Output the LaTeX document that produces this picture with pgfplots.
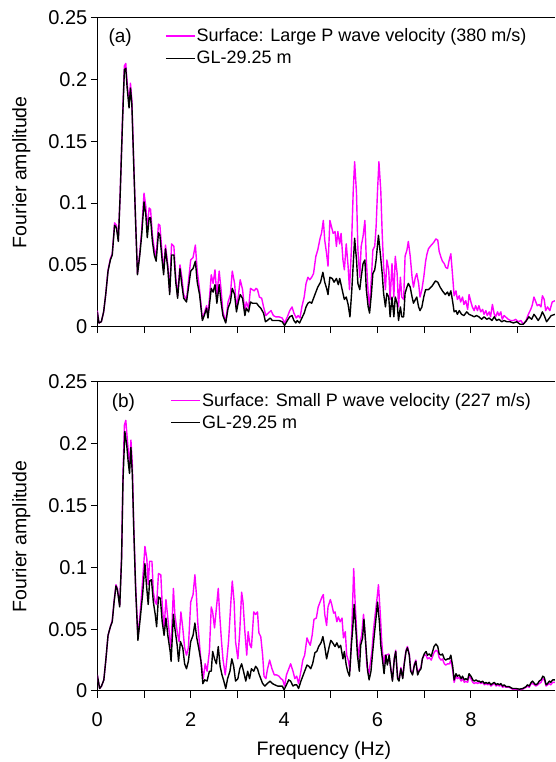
\documentclass[border=0pt]{standalone}
\usepackage{pgfplots}
\pgfplotsset{compat=1.18}
\usepackage{fontspec}
\setmainfont{Liberation Sans}
\definecolor{mag}{RGB}{255,0,255}
\pgfplotsset{
 myax/.style={
  scale only axis, width=457.7pt, height=309pt,
  xmin=0, xmax=9.8, ymin=0, ymax=0.25,
  axis x line*=box, axis y line*=left,
  xtick pos=bottom, ytick pos=left,
  axis line style={line width=1pt},
  tick align=outside, major tick length=6.5pt,
  every tick/.style={black, line width=1pt},
  xtick={0,1,2,3,4,5,6,7,8,9},
  ytick={0,0.05,0.1,0.15,0.2,0.25},
  yticklabels={0,0.05,0.1,0.15,0.2,0.25},
  ticklabel style={font=\fontsize{20}{20}\selectfont},
  ylabel={Fourier amplitude},
  ylabel style={at={(axis description cs:-0.166,0.5)}, anchor=center, font=\fontsize{19.5}{19.5}\selectfont},
  legend cell align=left,
  legend image code/.code={\draw[#1, line width=1.4pt] (0pt,0pt) -- (29pt,0pt);},
  legend style={draw=none, fill=none, anchor=north west, inner sep=0pt, row sep=6pt,
    font=\fontsize{18}{18}\selectfont, nodes={inner sep=1pt}},
  clip=true,
 },
 mline/.style={mag, line width=1.4pt, line join=round},
 bline/.style={black, line width=1.4pt, line join=round},
}
\begin{document}
\begin{tikzpicture}
\path[use as bounding box] (0,0) rectangle (555pt,762pt);
% ---------------- top panel ----------------
\begin{axis}[myax, at={(97.3pt,435.3pt)}, anchor=south west,
  xticklabel=\empty,
  legend style={at={(axis description cs:0.148,0.968)}}]
\addplot[mline] coordinates {(0,0.013)(0.036,0.003)(0.086,0.004)(0.136,0.012)(0.18,0.026)(0.23,0.046)(0.28,0.055)(0.32,0.059)(0.37,0.084)(0.41,0.082)(0.45,0.070)(0.49,0.108)(0.54,0.168)(0.58,0.211)(0.61,0.213)(0.64,0.197)(0.68,0.180)(0.71,0.197)(0.74,0.183)(0.78,0.133)(0.82,0.086)(0.86,0.043)(0.91,0.060)(0.95,0.078)(1.0,0.108)(1.04,0.097)(1.07,0.078)(1.11,0.096)(1.14,0.095)(1.18,0.074)(1.22,0.063)(1.26,0.057)(1.31,0.083)(1.34,0.082)(1.39,0.058)(1.42,0.046)(1.46,0.066)(1.51,0.050)(1.55,0.028)(1.59,0.067)(1.64,0.065)(1.68,0.040)(1.72,0.025)(1.77,0.050)(1.81,0.040)(1.85,0.026)(1.91,0.022)(1.95,0.036)(2.0,0.054)(2.05,0.056)(2.1,0.066)(2.14,0.045)(2.19,0.030)(2.25,0.006)(2.29,0.011)(2.34,0.017)(2.37,0.008)(2.44,0.042)(2.48,0.035)(2.52,0.046)(2.56,0.025)(2.61,0.045)(2.65,0.030)(2.69,0.012)(2.75,0.004)(2.80,0.020)(2.85,0.026)(2.89,0.045)(2.94,0.035)(2.98,0.015)(3.02,0.025)(3.06,0.038)(3.11,0.030)(3.16,0.012)(3.19,0.020)(3.24,0.015)(3.28,0.031)(3.32,0.030)(3.36,0.029)(3.40,0.031)(3.43,0.030)(3.47,0.024)(3.52,0.023)(3.56,0.016)(3.61,0.009)(3.66,0.011)(3.72,0.013)(3.77,0.009)(3.82,0.008)(3.89,0.008)(3.96,0.007)(4.01,0.003)(4.07,0.008)(4.12,0.013)(4.17,0.016)(4.21,0.011)(4.26,0.007)(4.30,0.009)(4.34,0.007)(4.38,0.016)(4.43,0.024)(4.47,0.035)(4.51,0.040)(4.55,0.038)(4.59,0.040)(4.63,0.043)(4.68,0.057)(4.72,0.062)(4.77,0.0715)(4.80,0.0755)(4.84,0.086)(4.87,0.070)(4.91,0.059)(4.94,0.049)(4.98,0.086)(5.02,0.080)(5.05,0.0755)(5.09,0.077)(5.12,0.065)(5.15,0.077)(5.19,0.067)(5.22,0.0755)(5.26,0.054)(5.29,0.046)(5.33,0.067)(5.37,0.049)(5.40,0.030)(5.44,0.062)(5.48,0.110)(5.51,0.1335)(5.55,0.108)(5.58,0.062)(5.62,0.040)(5.65,0.065)(5.69,0.073)(5.73,0.086)(5.76,0.054)(5.80,0.027)(5.83,0.016)(5.87,0.040)(5.90,0.062)(5.94,0.065)(5.97,0.081)(6.00,0.110)(6.03,0.1335)(6.07,0.110)(6.10,0.0755)(6.13,0.049)(6.17,0.030)(6.20,0.054)(6.24,0.046)(6.27,0.022)(6.31,0.051)(6.35,0.024)(6.38,0.057)(6.42,0.043)(6.45,0.016)(6.49,0.040)(6.52,0.024)(6.56,0.022)(6.59,0.057)(6.63,0.062)(6.66,0.069)(6.70,0.057)(6.74,0.040)(6.77,0.032)(6.81,0.040)(6.84,0.043)(6.88,0.035)(6.91,0.024)(6.95,0.030)(6.99,0.040)(7.03,0.053)(7.06,0.059)(7.09,0.063)(7.15,0.066)(7.2,0.068)(7.25,0.071)(7.29,0.070)(7.32,0.061)(7.36,0.056)(7.39,0.053)(7.43,0.051)(7.46,0.048)(7.5,0.047)(7.53,0.053)(7.57,0.059)(7.61,0.040)(7.64,0.025)(7.68,0.029)(7.71,0.022)(7.75,0.025)(7.78,0.020)(7.82,0.024)(7.85,0.018)(7.89,0.021)(7.93,0.014)(7.96,0.026)(8.0,0.020)(8.03,0.016)(8.07,0.013)(8.1,0.017)(8.14,0.013)(8.17,0.017)(8.21,0.012)(8.25,0.014)(8.28,0.010)(8.32,0.013)(8.35,0.009)(8.39,0.012)(8.42,0.008)(8.46,0.018)(8.5,0.010)(8.53,0.008)(8.57,0.012)(8.6,0.009)(8.64,0.012)(8.67,0.006)(8.71,0.009)(8.74,0.008)(8.8,0.006)(8.85,0.005)(8.91,0.005)(8.96,0.006)(9.01,0.004)(9.07,0.005)(9.12,0.002)(9.17,0.004)(9.23,0.010)(9.28,0.014)(9.31,0.017)(9.35,0.024)(9.38,0.021)(9.42,0.017)(9.46,0.018)(9.5,0.016)(9.53,0.025)(9.57,0.022)(9.6,0.013)(9.64,0.016)(9.69,0.013)(9.74,0.020)(9.8,0.021)};
\addlegendentry{Surface: Large P wave velocity (380 m/s)}
\addplot[bline] coordinates {(0,0.012)(0.036,0.003)(0.086,0.004)(0.136,0.012)(0.18,0.026)(0.23,0.045)(0.28,0.054)(0.32,0.058)(0.37,0.082)(0.41,0.080)(0.45,0.069)(0.49,0.107)(0.54,0.166)(0.58,0.208)(0.61,0.209)(0.64,0.193)(0.68,0.177)(0.71,0.193)(0.74,0.180)(0.78,0.131)(0.82,0.085)(0.86,0.042)(0.91,0.058)(0.95,0.074)(1.0,0.101)(1.04,0.090)(1.07,0.072)(1.11,0.088)(1.14,0.088)(1.18,0.069)(1.22,0.058)(1.26,0.053)(1.31,0.076)(1.34,0.074)(1.39,0.053)(1.42,0.042)(1.46,0.063)(1.51,0.047)(1.55,0.026)(1.59,0.058)(1.64,0.058)(1.68,0.036)(1.72,0.023)(1.77,0.047)(1.81,0.034)(1.85,0.023)(1.91,0.020)(1.95,0.031)(2.0,0.045)(2.05,0.047)(2.1,0.053)(2.14,0.036)(2.19,0.026)(2.25,0.005)(2.29,0.009)(2.34,0.015)(2.37,0.007)(2.44,0.031)(2.48,0.028)(2.52,0.034)(2.56,0.019)(2.61,0.034)(2.65,0.020)(2.69,0.009)(2.75,0.003)(2.8,0.015)(2.85,0.020)(2.89,0.031)(2.94,0.026)(2.98,0.012)(3.02,0.020)(3.06,0.026)(3.11,0.023)(3.16,0.009)(3.19,0.015)(3.24,0.012)(3.28,0.020)(3.32,0.019)(3.36,0.019)(3.41,0.019)(3.45,0.017)(3.50,0.015)(3.56,0.011)(3.60,0.004)(3.64,0.005)(3.70,0.007)(3.75,0.005)(3.82,0.005)(3.89,0.005)(3.96,0.004)(4.01,0.001)(4.07,0.005)(4.12,0.008)(4.17,0.009)(4.21,0.005)(4.25,0.003)(4.28,0.005)(4.33,0.003)(4.38,0.007)(4.43,0.011)(4.47,0.016)(4.51,0.019)(4.55,0.020)(4.59,0.019)(4.63,0.023)(4.68,0.028)(4.72,0.032)(4.78,0.036)(4.83,0.044)(4.87,0.036)(4.91,0.031)(4.94,0.026)(4.98,0.040)(5.03,0.039)(5.07,0.036)(5.12,0.039)(5.16,0.034)(5.19,0.039)(5.22,0.034)(5.26,0.027)(5.29,0.022)(5.33,0.024)(5.37,0.018)(5.41,0.008)(5.45,0.030)(5.51,0.0715)(5.55,0.054)(5.58,0.035)(5.62,0.030)(5.65,0.040)(5.69,0.051)(5.73,0.054)(5.76,0.030)(5.80,0.016)(5.83,0.011)(5.87,0.027)(5.90,0.043)(5.94,0.046)(5.97,0.054)(6.02,0.074)(6.06,0.059)(6.10,0.043)(6.13,0.027)(6.17,0.016)(6.20,0.027)(6.24,0.024)(6.27,0.008)(6.31,0.024)(6.35,0.008)(6.38,0.024)(6.42,0.019)(6.45,0.005)(6.49,0.016)(6.52,0.008)(6.56,0.008)(6.59,0.027)(6.63,0.032)(6.66,0.035)(6.70,0.032)(6.74,0.024)(6.77,0.019)(6.81,0.022)(6.84,0.024)(6.88,0.016)(6.91,0.013)(6.95,0.016)(6.99,0.024)(7.03,0.030)(7.09,0.030)(7.17,0.033)(7.24,0.037)(7.29,0.036)(7.34,0.032)(7.39,0.029)(7.45,0.026)(7.5,0.028)(7.53,0.025)(7.57,0.029)(7.61,0.020)(7.64,0.012)(7.68,0.013)(7.71,0.010)(7.75,0.013)(7.8,0.010)(7.85,0.009)(7.91,0.012)(7.96,0.010)(8.02,0.009)(8.07,0.008)(8.12,0.009)(8.17,0.008)(8.23,0.006)(8.28,0.008)(8.34,0.006)(8.39,0.007)(8.45,0.005)(8.5,0.008)(8.55,0.005)(8.6,0.006)(8.66,0.004)(8.71,0.005)(8.77,0.004)(8.84,0.004)(8.91,0.003)(8.98,0.004)(9.05,0.002)(9.12,0.002)(9.19,0.005)(9.24,0.008)(9.3,0.006)(9.35,0.010)(9.39,0.008)(9.44,0.005)(9.49,0.008)(9.53,0.012)(9.57,0.009)(9.62,0.004)(9.66,0.006)(9.72,0.009)(9.8,0.010)};
\addlegendentry{GL-29.25 m}
\node[font=\fontsize{19}{19}\selectfont] at (axis description cs:0.05,0.934) {(a)};
\end{axis}
% ---------------- bottom panel ----------------
\begin{axis}[myax, at={(97.3pt,71pt)}, anchor=south west,
  xticklabels={0,,2,,4,,6,,8,},
  xticklabel shift=12pt,
  xlabel={Frequency (Hz)},
  xlabel style={at={(axis description cs:0.495,-0.191)}, anchor=center, font=\fontsize{19.5}{19.5}\selectfont},
  legend style={at={(axis description cs:0.16,0.968)}}]
\addplot[mline] coordinates {(0,0.013)(0.05,0.002)(0.09,0.004)(0.14,0.009)(0.18,0.024)(0.23,0.045)(0.28,0.052)(0.32,0.057)(0.36,0.073)(0.40,0.086)(0.43,0.083)(0.48,0.069)(0.52,0.109)(0.55,0.175)(0.58,0.215)(0.61,0.219)(0.64,0.205)(0.67,0.191)(0.69,0.183)(0.72,0.203)(0.75,0.183)(0.78,0.134)(0.82,0.086)(0.87,0.043)(0.92,0.064)(0.97,0.089)(1.02,0.117)(1.06,0.107)(1.09,0.086)(1.12,0.105)(1.17,0.105)(1.20,0.080)(1.24,0.072)(1.27,0.070)(1.31,0.095)(1.36,0.094)(1.39,0.070)(1.43,0.051)(1.47,0.074)(1.51,0.059)(1.56,0.040)(1.58,0.035)(1.63,0.083)(1.66,0.062)(1.71,0.048)(1.75,0.040)(1.79,0.064)(1.83,0.051)(1.87,0.035)(1.91,0.029)(1.95,0.035)(2.0,0.072)(2.05,0.078)(2.09,0.094)(2.12,0.079)(2.15,0.056)(2.19,0.037)(2.22,0.024)(2.27,0.010)(2.31,0.022)(2.35,0.016)(2.40,0.032)(2.44,0.068)(2.47,0.064)(2.51,0.051)(2.55,0.067)(2.59,0.083)(2.62,0.062)(2.66,0.040)(2.69,0.026)(2.74,0.013)(2.77,0.024)(2.81,0.040)(2.86,0.072)(2.89,0.089)(2.93,0.072)(2.96,0.040)(3.01,0.026)(3.05,0.048)(3.09,0.080)(3.12,0.072)(3.16,0.048)(3.20,0.029)(3.23,0.048)(3.27,0.037)(3.30,0.035)(3.35,0.064)(3.39,0.062)(3.43,0.064)(3.46,0.047)(3.50,0.044)(3.54,0.029)(3.57,0.012)(3.61,0.010)(3.64,0.017)(3.69,0.025)(3.74,0.018)(3.79,0.013)(3.84,0.013)(3.89,0.012)(3.93,0.010)(3.97,0.009)(4.01,0.004)(4.05,0.013)(4.10,0.018)(4.14,0.022)(4.19,0.016)(4.23,0.010)(4.27,0.012)(4.31,0.006)(4.36,0.016)(4.40,0.025)(4.44,0.029)(4.49,0.043)(4.52,0.040)(4.56,0.037)(4.60,0.045)(4.64,0.058)(4.69,0.059)(4.73,0.068)(4.77,0.072)(4.81,0.076)(4.84,0.078)(4.87,0.062)(4.91,0.053)(4.94,0.068)(4.99,0.074)(5.02,0.070)(5.06,0.063)(5.09,0.064)(5.13,0.056)(5.16,0.060)(5.20,0.056)(5.24,0.059)(5.27,0.043)(5.31,0.048)(5.34,0.029)(5.38,0.024)(5.41,0.016)(5.45,0.051)(5.49,0.099)(5.52,0.072)(5.56,0.043)(5.59,0.026)(5.63,0.040)(5.66,0.045)(5.70,0.062)(5.74,0.043)(5.77,0.021)(5.81,0.013)(5.84,0.021)(5.88,0.032)(5.91,0.048)(5.95,0.062)(5.99,0.075)(6.02,0.086)(6.06,0.062)(6.09,0.040)(6.13,0.021)(6.16,0.029)(6.19,0.029)(6.24,0.030)(6.29,0.017)(6.32,0.009)(6.36,0.027)(6.39,0.033)(6.43,0.011)(6.46,0.009)(6.50,0.019)(6.54,0.011)(6.57,0.022)(6.61,0.033)(6.64,0.036)(6.68,0.030)(6.71,0.017)(6.75,0.014)(6.79,0.022)(6.82,0.025)(6.86,0.014)(6.89,0.017)(6.93,0.019)(6.96,0.026)(7.0,0.029)(7.04,0.029)(7.07,0.026)(7.11,0.027)(7.15,0.025)(7.18,0.028)(7.21,0.031)(7.25,0.033)(7.29,0.032)(7.32,0.027)(7.36,0.025)(7.39,0.026)(7.43,0.022)(7.46,0.021)(7.5,0.022)(7.54,0.022)(7.57,0.025)(7.61,0.017)(7.64,0.007)(7.68,0.012)(7.71,0.010)(7.75,0.011)(7.79,0.008)(7.82,0.010)(7.86,0.007)(7.89,0.008)(7.93,0.007)(7.96,0.012)(8.0,0.010)(8.04,0.007)(8.07,0.006)(8.11,0.007)(8.14,0.006)(8.18,0.007)(8.21,0.006)(8.25,0.007)(8.29,0.005)(8.32,0.006)(8.36,0.005)(8.39,0.006)(8.43,0.004)(8.46,0.005)(8.5,0.006)(8.54,0.004)(8.57,0.005)(8.61,0.004)(8.64,0.005)(8.68,0.003)(8.71,0.004)(8.75,0.003)(8.82,0.003)(8.89,0.0015)(8.96,0.0015)(9.04,0.001)(9.11,0.0015)(9.18,0.003)(9.21,0.004)(9.25,0.003)(9.29,0.006)(9.32,0.006)(9.36,0.005)(9.39,0.004)(9.43,0.005)(9.46,0.006)(9.5,0.007)(9.54,0.010)(9.57,0.009)(9.61,0.004)(9.64,0.005)(9.68,0.006)(9.71,0.005)(9.75,0.007)(9.8,0.007)};
\addlegendentry{Surface: Small P wave velocity (227 m/s)}
\addplot[bline] coordinates {(0,0.013)(0.05,0.002)(0.09,0.004)(0.14,0.009)(0.18,0.024)(0.23,0.045)(0.28,0.052)(0.32,0.056)(0.36,0.072)(0.40,0.085)(0.43,0.082)(0.48,0.068)(0.52,0.107)(0.55,0.170)(0.59,0.210)(0.63,0.199)(0.66,0.186)(0.69,0.176)(0.72,0.197)(0.75,0.175)(0.78,0.132)(0.82,0.083)(0.87,0.041)(0.92,0.059)(0.97,0.078)(1.02,0.103)(1.05,0.087)(1.09,0.070)(1.12,0.089)(1.16,0.090)(1.20,0.072)(1.24,0.062)(1.27,0.052)(1.31,0.076)(1.35,0.075)(1.39,0.056)(1.43,0.045)(1.47,0.059)(1.51,0.045)(1.56,0.032)(1.58,0.024)(1.63,0.062)(1.66,0.051)(1.71,0.037)(1.74,0.024)(1.78,0.040)(1.83,0.035)(1.87,0.022)(1.91,0.018)(1.95,0.024)(2.0,0.040)(2.05,0.045)(2.09,0.055)(2.13,0.043)(2.17,0.035)(2.22,0.024)(2.26,0.006)(2.30,0.009)(2.35,0.008)(2.40,0.016)(2.44,0.016)(2.47,0.032)(2.51,0.026)(2.55,0.022)(2.59,0.036)(2.63,0.020)(2.67,0.013)(2.71,0.008)(2.75,0.002)(2.79,0.010)(2.84,0.016)(2.88,0.026)(2.92,0.020)(2.96,0.008)(3.01,0.010)(3.05,0.018)(3.09,0.022)(3.13,0.016)(3.18,0.008)(3.22,0.016)(3.26,0.010)(3.30,0.018)(3.35,0.016)(3.39,0.020)(3.43,0.018)(3.46,0.014)(3.50,0.010)(3.54,0.006)(3.59,0.004)(3.64,0.006)(3.70,0.008)(3.75,0.006)(3.80,0.005)(3.86,0.004)(3.91,0.004)(3.96,0.004)(4.0,0.001)(4.05,0.005)(4.10,0.009)(4.14,0.008)(4.19,0.004)(4.23,0.005)(4.27,0.005)(4.31,0.002)(4.36,0.008)(4.40,0.012)(4.44,0.016)(4.49,0.021)(4.53,0.020)(4.57,0.018)(4.61,0.022)(4.66,0.031)(4.70,0.032)(4.74,0.036)(4.79,0.039)(4.83,0.044)(4.87,0.036)(4.91,0.026)(4.96,0.035)(5.0,0.041)(5.04,0.039)(5.09,0.036)(5.13,0.039)(5.17,0.035)(5.21,0.037)(5.26,0.026)(5.29,0.032)(5.33,0.021)(5.36,0.016)(5.40,0.012)(5.44,0.037)(5.47,0.051)(5.50,0.070)(5.54,0.048)(5.57,0.029)(5.61,0.016)(5.64,0.037)(5.68,0.043)(5.71,0.058)(5.75,0.037)(5.79,0.016)(5.82,0.009)(5.86,0.016)(5.89,0.029)(5.93,0.045)(5.96,0.056)(6.0,0.072)(6.04,0.056)(6.07,0.037)(6.11,0.024)(6.14,0.014)(6.18,0.029)(6.21,0.021)(6.25,0.029)(6.29,0.016)(6.32,0.008)(6.36,0.026)(6.39,0.032)(6.43,0.010)(6.46,0.008)(6.50,0.018)(6.54,0.010)(6.57,0.021)(6.61,0.032)(6.64,0.035)(6.68,0.029)(6.71,0.016)(6.75,0.013)(6.79,0.021)(6.82,0.024)(6.86,0.013)(6.89,0.016)(6.93,0.018)(6.96,0.026)(7.0,0.030)(7.04,0.032)(7.07,0.029)(7.11,0.030)(7.15,0.028)(7.18,0.032)(7.21,0.036)(7.25,0.038)(7.29,0.036)(7.32,0.030)(7.36,0.029)(7.39,0.030)(7.43,0.026)(7.46,0.025)(7.5,0.026)(7.54,0.026)(7.57,0.029)(7.61,0.020)(7.64,0.009)(7.68,0.014)(7.71,0.012)(7.75,0.013)(7.79,0.010)(7.82,0.012)(7.86,0.009)(7.89,0.010)(7.93,0.009)(7.96,0.014)(8.0,0.012)(8.04,0.009)(8.07,0.008)(8.11,0.009)(8.14,0.008)(8.18,0.008)(8.21,0.007)(8.25,0.008)(8.29,0.006)(8.32,0.007)(8.36,0.006)(8.39,0.007)(8.43,0.005)(8.46,0.006)(8.5,0.007)(8.54,0.005)(8.57,0.006)(8.61,0.005)(8.64,0.006)(8.68,0.004)(8.71,0.005)(8.75,0.0035)(8.82,0.0035)(8.89,0.002)(8.96,0.002)(9.04,0.0015)(9.11,0.002)(9.18,0.0035)(9.21,0.005)(9.25,0.004)(9.29,0.007)(9.32,0.008)(9.36,0.006)(9.39,0.005)(9.43,0.006)(9.46,0.008)(9.5,0.009)(9.54,0.012)(9.57,0.011)(9.61,0.005)(9.64,0.006)(9.68,0.008)(9.71,0.007)(9.75,0.009)(9.8,0.009)};
\addlegendentry{GL-29.25 m}
\node[font=\fontsize{19}{19}\selectfont] at (axis description cs:0.057,0.932) {(b)};
\end{axis}
\end{tikzpicture}
\end{document}
